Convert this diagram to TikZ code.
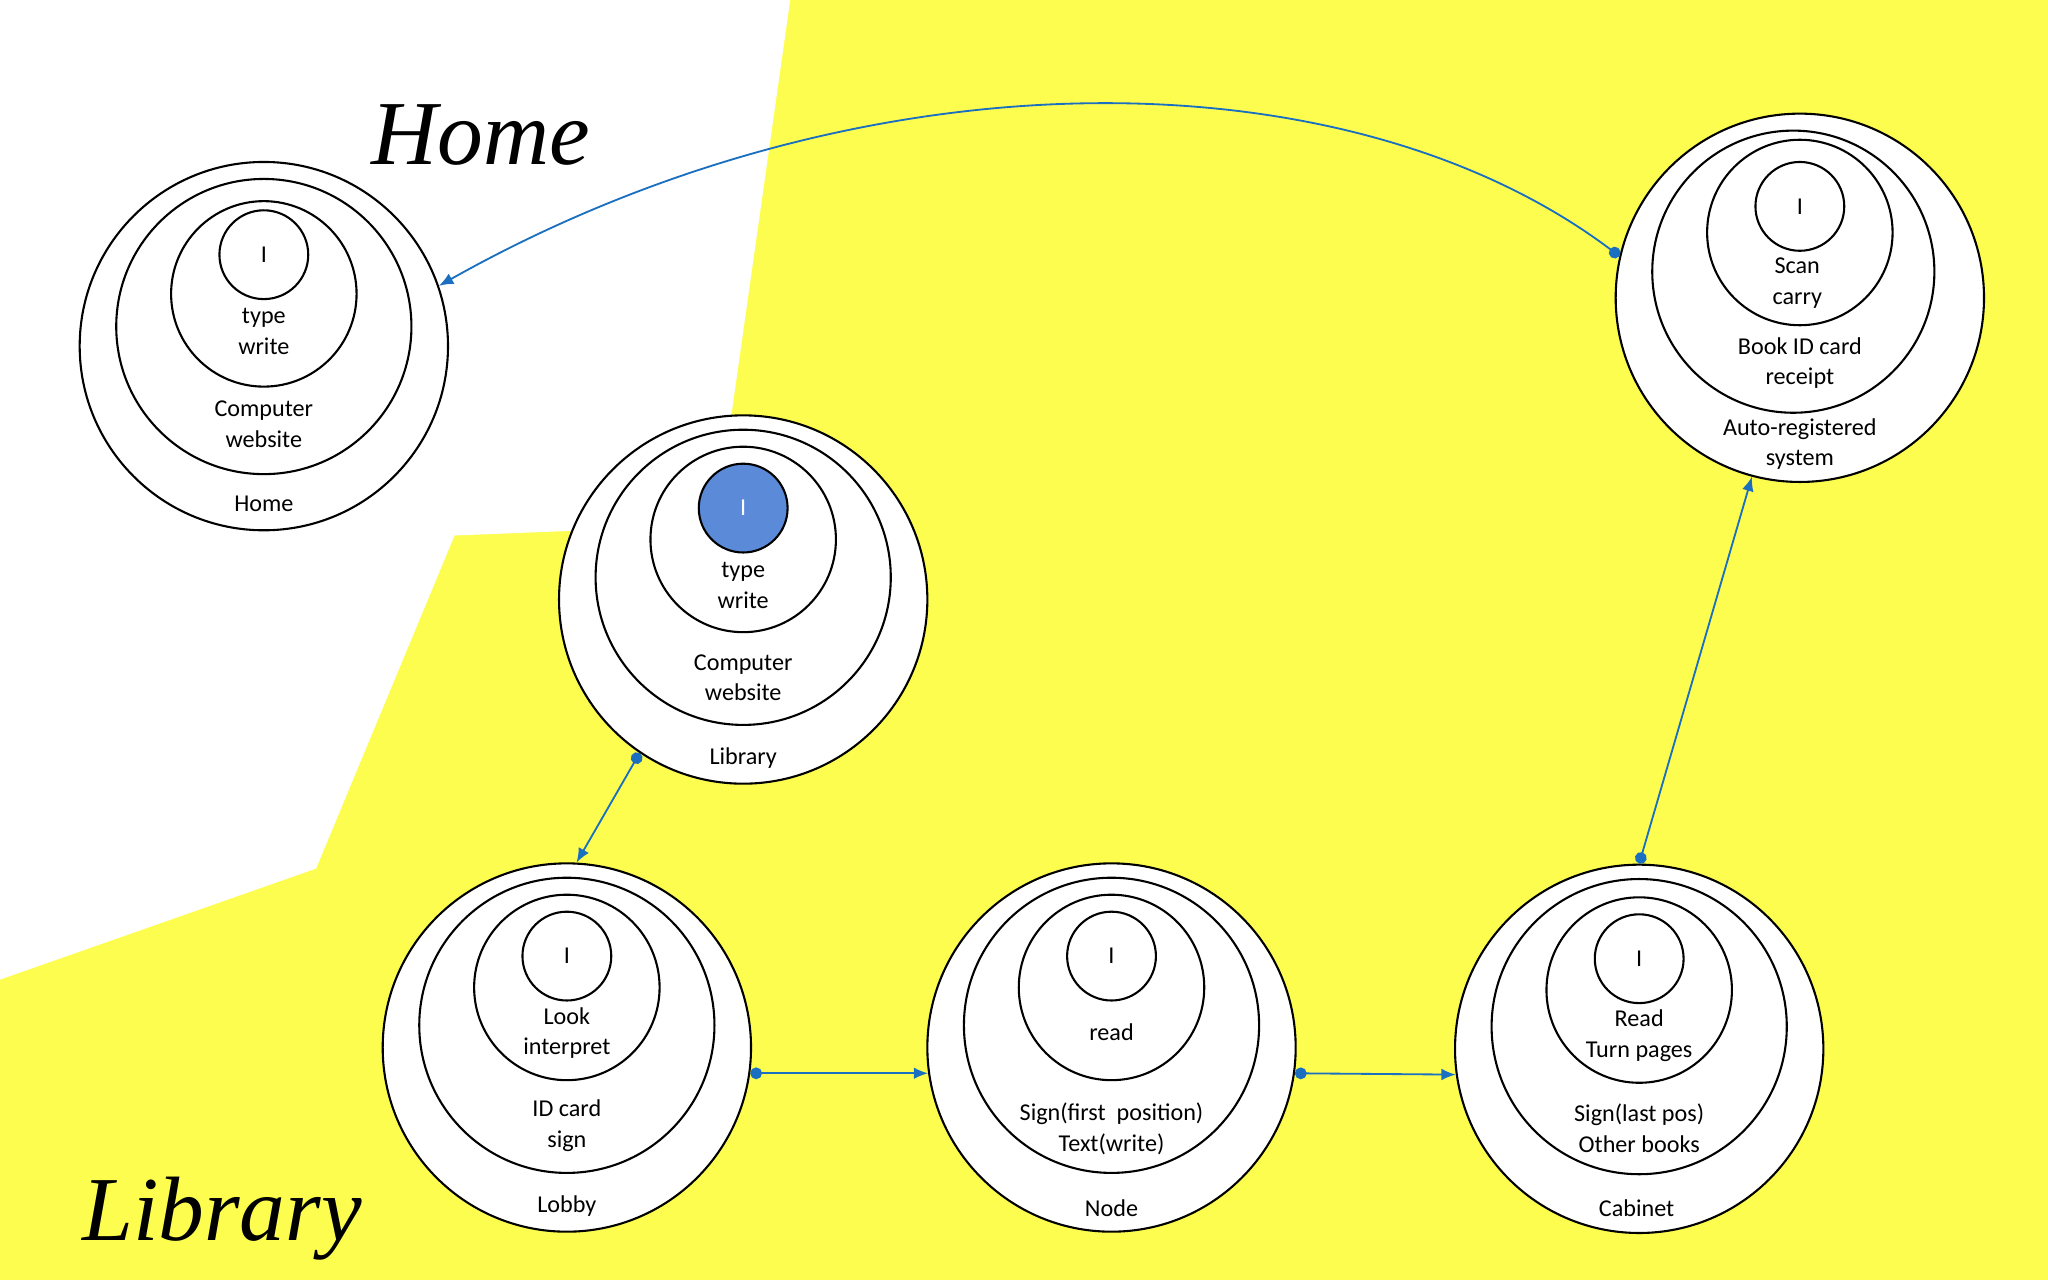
\documentclass[tikz,border=0pt]{standalone}
\usepackage{fontspec}
\setmainfont{Carlito}
\newfontfamily\titlefont{Liberation Serif}
\usetikzlibrary{arrows.meta}
\definecolor{bgyellow}{HTML}{FDFD50}
\definecolor{linkblue}{HTML}{1A6FC0}
\definecolor{selblue}{HTML}{5B8BD8}
\begin{document}
\begin{tikzpicture}[x=1pt,y=-1pt,
  ring/.style={circle,draw=black,line width=1.6pt,fill=white,inner sep=0pt,minimum size=#1},
  lbl/.style={font=\fontsize{18.5}{23.5}\selectfont,align=center},
  title/.style={font=\titlefont\itshape\fontsize{70}{80}\selectfont},
  link/.style={draw=linkblue,line width=1.4pt,{Circle[length=9pt]}-{Latex[length=11pt,width=9pt]}}]
\useasboundingbox (0,0) rectangle (1568,980);
\fill[bgyellow] (0,0) rectangle (1568,980);
\fill[white] (0,0) -- (605,0) -- (548,402) -- (348,410) -- (242,665) -- (0,750) -- cycle;
\node[title] (thome) at (368,103) {Home};
\node[title] (tlib) at (170,933) {Library};
% Home
\node[ring=282pt] (hA) at (202,265) {};
\node[ring=226pt] (hB) at (202,250) {};
\node[ring=142pt] (hC) at (202,225) {};
\node[ring=68pt,lbl] (hD) at (202,195) {I};
\node[lbl] (hT1) at (202,254) {type\\write};
\node[lbl] (hT2) at (202,325) {Computer\\website};
\node[lbl] (hT3) at (202,386) {Home};
% Library
\node[ring=282pt] (lA) at (569,459) {};
\node[ring=226pt] (lB) at (569,442) {};
\node[ring=142pt] (lC) at (569,413) {};
\node[ring=68pt,fill=selblue,lbl,text=white] (lD) at (569,389) {I};
\node[lbl] (lT1) at (569,448) {type\\write};
\node[lbl] (lT2) at (569,519) {Computer\\website};
\node[lbl] (lT3) at (569,580) {Library};
% Lobby
\node[ring=282pt] (bA) at (434,802) {};
\node[ring=226pt] (bB) at (434,785) {};
\node[ring=142pt] (bC) at (434,756) {};
\node[ring=68pt,lbl] (bD) at (434,732) {I};
\node[lbl] (bT1) at (434,791) {Look\\interpret};
\node[lbl] (bT2) at (434,862) {ID card\\sign};
\node[lbl] (bT3) at (434,923) {Lobby};
% Node
\node[ring=282pt] (nA) at (851,802) {};
\node[ring=226pt] (nB) at (851,785) {};
\node[ring=142pt] (nC) at (851,756) {};
\node[ring=68pt,lbl] (nD) at (851,732) {I};
\node[lbl] (nT1) at (851,790) {read};
\node[lbl] (nT2) at (851,864) {Sign(first\ \ position)\\Text(write)};
\node[lbl] (nT3) at (851,925) {Node};
% Cabinet
\node[ring=282pt] (cA) at (1255,803) {};
\node[ring=226pt] (cB) at (1255,786) {};
\node[ring=142pt] (cC) at (1255,758) {};
\node[ring=68pt,lbl] (cD) at (1255,734) {I};
\node[lbl] (cT1) at (1255,793) {Read\\Turn pages};
\node[lbl] (cT2) at (1255,864) {Sign(last pos)\\Other books};
\node[lbl] (cT3) at (1253,925) {Cabinet};
% Auto-registered
\node[ring=282pt] (aA) at (1378,228) {};
\node[ring=216pt] (aB) at (1373,208) {};
\node[ring=142pt] (aC) at (1378,178) {};
\node[ring=68pt,lbl] (aD) at (1378,158) {I};
\node[lbl] (aT1) at (1376,217) {Scan\\carry};
\node[lbl] (aT2) at (1378,278) {Book ID card\\receipt};
\node[lbl] (aT3) at (1378,340) {Auto-registered\\system};
% connectors
\draw[link] (aA.167) .. controls (1030,38) and (657,38) .. (hA.19);
\draw[link] (lA.236) -- (bA.87);
\draw[link] (bA.-8) -- (nA.188);
\draw[link] (nA.-8) -- (cA.188);
\draw[link] (cA.90) -- (aA.-105);
\end{tikzpicture}
\end{document}
